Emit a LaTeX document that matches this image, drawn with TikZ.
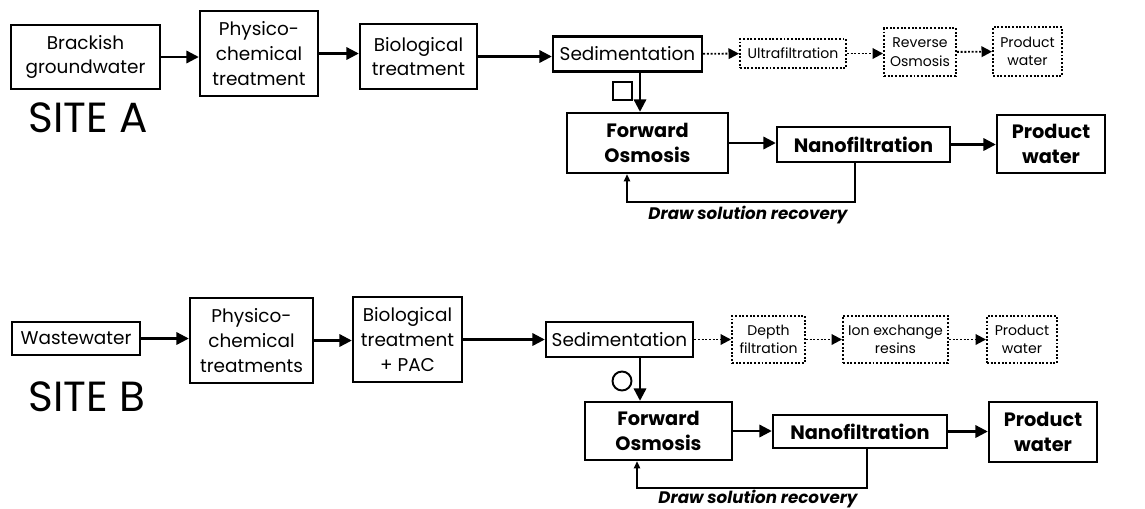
\documentclass[tikz,border=0pt]{standalone}
\usepackage{fontspec}
\setmainfont{Poppins}
\usetikzlibrary{arrows.meta,positioning,calc}

\begin{document}
\begin{tikzpicture}[x=0.02cm, y=-0.02cm,
box/.style={draw, line width=1.4pt, align=center, inner sep=0pt, font=\fontsize{10.5}{14}\selectfont},
fobox/.style={box, font=\bfseries\fontsize{11}{14}\selectfont},
dotbox/.style={draw, densely dotted, line width=1.1pt, align=center, inner sep=0pt, font=\fontsize{8}{10.5}\selectfont},
sz/.style 2 args={minimum width=#1*0.02cm, minimum height=#2*0.02cm},
arr/.style={-{Triangle[length=7pt,width=7pt]}, line width=1.3pt},
dotarr/.style={-{Triangle[length=6pt,width=6pt]}, line width=1.1pt, densely dotted},
fbarr/.style={-{Triangle[length=4pt,width=3.5pt]}, line width=1.3pt},
site/.style={font=\fontsize{24}{28}\selectfont},
note/.style={font=\bfseries\itshape\fontsize{9.5}{11}\selectfont}]

\useasboundingbox (0,0) rectangle (1145,508);

% site A
\node[box, sz={149}{64}] (bgw) at (85.5,57) {Brackish\\groundwater};
\node[box, sz={118}{85}] (pcA) at (259,53.5) {Physico-\\chemical\\treatment};
\node[box, sz={117}{65}] (bioA) at (418.5,56.5) {Biological\\treatment};
\node[box, sz={149}{35}] (sedA) at (627.5,54) {Sedimentation};
\node[dotbox, sz={106}{29}] (ufA) at (793,53.5) {Ultrafiltration};
\node[dotbox, sz={72}{48}] (roA) at (920,52) {Reverse\\Osmosis};
\node[dotbox, sz={69}{49}] (pwdA) at (1027.5,51.5) {Product\\water};
\node[site] (siteA) at (88,117.5) {SITE A};
\node[draw, line width=1.1pt, sz={19}{18}] (sqA) at (622.5,91) {};
\node[fobox, sz={161}{60}] (foA) at (647.5,143) {Forward\\Osmosis};
\node[fobox, sz={173}{35}] (nfA) at (863.5,144.5) {Nanofiltration};
\node[fobox, sz={108}{58}] (pwA) at (1051,144) {Product\\water};
\node[note] (dsrA) at (748,215) {Draw solution recovery};

\draw[arr] (bgw) -- (pcA.west |- bgw);
\draw[arr] (pcA) -- (bioA.west |- pcA);
\draw[arr] (bioA) -- (sedA.west |- bioA);
\draw[dotarr] (sedA) -- (ufA);
\draw[dotarr] (ufA) -- (roA.west |- ufA);
\draw[dotarr] (roA) -- (pwdA);
\draw[arr] (sedA.south -| 640,0) -- (foA.north -| 640,0);
\draw[arr] (foA) -- (nfA.west |- foA);
\draw[arr] (nfA) -- (pwA.west |- nfA);
\draw[fbarr] (nfA.south -| 855,0) |- (627,202) -- (foA.south -| 627,0);

% site B
\node[box, sz={128}{33}] (ww) at (76,338.5) {Wastewater};
\node[box, sz={123}{85}] (pcB) at (251.5,340.5) {Physico-\\chemical\\treatments};
\node[box, sz={109}{85}] (bioB) at (407.5,339.5) {Biological\\treatment\\+ PAC};
\node[box, sz={147}{35}] (sedB) at (619.5,339.5) {Sedimentation};
\node[dotbox, sz={73}{47}] (dfB) at (768.5,339.5) {Depth\\filtration};
\node[dotbox, sz={105}{47}] (ieB) at (895.5,339.5) {Ion exchange\\resins};
\node[dotbox, sz={70}{47}] (pwdB) at (1022,339.5) {Product\\water};
\node[site] (siteB) at (87,396.5) {SITE B};
\node[draw, circle, line width=1.1pt, sz={19}{19}] (ciB) at (622,381) {};
\node[fobox, sz={147}{58}] (foB) at (658.5,431) {Forward\\Osmosis};
\node[fobox, sz={174}{33}] (nfB) at (860,431.5) {Nanofiltration};
\node[fobox, sz={108}{60}] (pwB) at (1043,432) {Product\\water};
\node[note] (dsrB) at (758,499) {Draw solution recovery};

\draw[arr] (ww) -- (pcB.west |- ww);
\draw[arr] (pcB) -- (bioB.west |- pcB);
\draw[arr] (bioB) -- (sedB.west |- bioB);
\draw[dotarr] (sedB) -- (dfB);
\draw[dotarr] (dfB) -- (ieB);
\draw[dotarr] (ieB) -- (pwdB);
\draw[arr] (sedB.south -| 640,0) -- (foB.north -| 640,0);
\draw[arr] (foB) -- (nfB.west |- foB);
\draw[arr] (nfB) -- (pwB.west |- nfB);
\draw[fbarr] (nfB.south -| 867,0) |- (637,488) -- (foB.south -| 637,0);
\end{tikzpicture}
\end{document}
